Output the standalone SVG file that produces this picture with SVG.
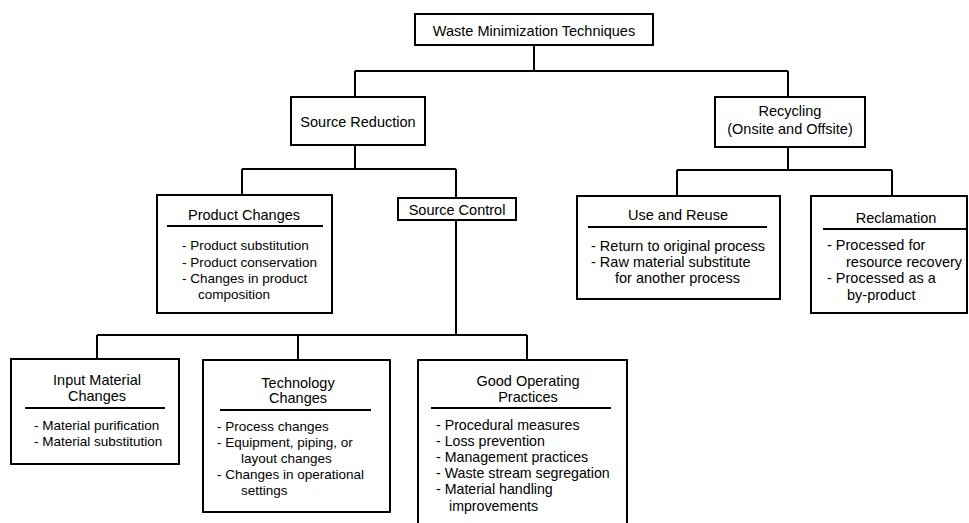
<svg xmlns="http://www.w3.org/2000/svg" width="969" height="523" viewBox="0 0 969 523">
<style>
.box{fill:#fff;stroke:#000;stroke-width:2}
.ul{stroke:#000;stroke-width:2}
.conn{fill:none;stroke:#000;stroke-width:2}
text{font-family:"Liberation Sans",Arial,sans-serif;font-size:14.5px;fill:#000}
.c{text-anchor:middle}
.s{font-size:13.5px}
.m{font-size:14.2px}
</style>
<rect width="969" height="523" fill="#fff"/>
<g id="connectors" class="conn">
<path d="M534 45V71M355 71H788M355 71V97M788 71V97"/>
<path d="M355 145V169M242 169H456M242 169V195M456 169V198"/>
<path d="M788 147V170M677 170H892M677 170V196M892 170V196"/>
<path d="M456 220V335M97 335H527M97 335V360M298 335V360M527 335V360"/>
</g>
<g id="waste-minimization">
<rect class="box" x="415" y="14" width="238" height="31"/>
<text class="c" x="534" y="36">Waste Minimization Techniques</text>
</g>
<g id="source-reduction">
<rect class="box" x="291" y="97" width="134" height="48"/>
<text class="c" x="358" y="127">Source Reduction</text>
</g>
<g id="recycling">
<rect class="box" x="715" y="97" width="150" height="50"/>
<text class="c" x="790" y="116">Recycling</text>
<text class="c" x="790" y="134">(Onsite and Offsite)</text>
</g>
<g id="product-changes">
<rect class="box" x="157" y="195" width="175" height="118"/>
<text class="c" x="244" y="220">Product Changes</text>
<line class="ul" x1="167" y1="226" x2="323" y2="226"/>
<text class="s" x="182" y="250">- Product substitution</text>
<text class="s" x="182" y="267">- Product conservation</text>
<text class="s" x="182" y="283">- Changes in product</text>
<text class="s" x="198" y="299">composition</text>
</g>
<g id="source-control">
<rect class="box" x="398" y="198" width="118" height="22"/>
<text class="c" x="457" y="215">Source Control</text>
</g>
<g id="use-and-reuse">
<rect class="box" x="577" y="196" width="203" height="103"/>
<text class="c" x="678" y="220">Use and Reuse</text>
<line class="ul" x1="588" y1="227" x2="767" y2="227"/>
<text x="591" y="251">- Return to original process</text>
<text x="591" y="267">- Raw material substitute</text>
<text x="615" y="283">for another process</text>
</g>
<g id="reclamation">
<rect class="box" x="811" y="196" width="156" height="117"/>
<text class="c" x="896" y="223">Reclamation</text>
<line class="ul" x1="823" y1="229" x2="967" y2="229"/>
<text x="827" y="250">- Processed for</text>
<text x="846" y="267">resource recovery</text>
<text x="827" y="283">- Processed as a</text>
<text x="847" y="300">by-product</text>
</g>
<g id="input-material-changes">
<rect class="box" x="11" y="359" width="168" height="105"/>
<text class="c" x="97" y="385">Input Material</text>
<text class="c" x="97" y="401">Changes</text>
<line class="ul" x1="25" y1="408" x2="165" y2="408"/>
<text class="s" x="34" y="430">- Material purification</text>
<text class="s" x="34" y="446">- Material substitution</text>
</g>
<g id="technology-changes">
<rect class="box" x="203" y="360" width="187" height="152"/>
<text class="c" x="298" y="388">Technology</text>
<text class="c" x="298" y="403">Changes</text>
<line class="ul" x1="220" y1="410" x2="371" y2="410"/>
<text class="s" x="217" y="431">- Process changes</text>
<text class="s" x="217" y="447">- Equipment, piping, or</text>
<text class="s" x="241" y="463">layout changes</text>
<text class="s" x="217" y="479">- Changes in operational</text>
<text class="s" x="241" y="495">settings</text>
</g>
<g id="good-operating-practices">
<rect class="box" x="418" y="360" width="209" height="175"/>
<text class="c" x="528" y="386">Good Operating</text>
<text class="c" x="528" y="402">Practices</text>
<line class="ul" x1="431" y1="408" x2="611" y2="408"/>
<text class="m" x="436" y="430">- Procedural measures</text>
<text class="m" x="436" y="446">- Loss prevention</text>
<text class="m" x="436" y="462">- Management practices</text>
<text class="m" x="436" y="478">- Waste stream segregation</text>
<text class="m" x="436" y="494">- Material handling</text>
<text class="m" x="449" y="511">improvements</text>
</g>
</svg>
